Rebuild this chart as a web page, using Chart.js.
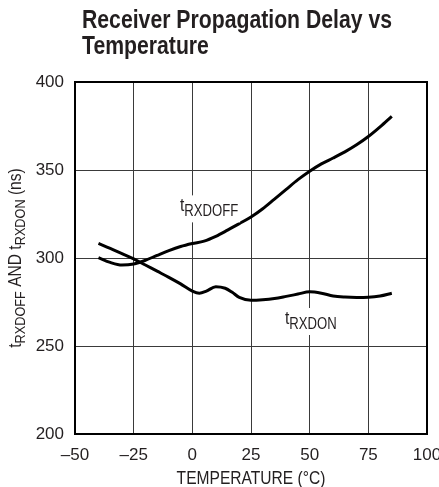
<!DOCTYPE html>
<html>
<head>
<meta charset="utf-8">
<script src="https://cdn.jsdelivr.net/npm/chart.js@4"></script>
<style>
html,body{margin:0;padding:0;background:#fff;}
#wrap{position:relative;width:439px;height:487px;}
</style>
</head>
<body>
<div id="wrap"><canvas id="c" width="439" height="487"></canvas></div>
<script>
const FONT = "'Liberation Sans', Arial, sans-serif";
const SX = 0.82; // horizontal compression to imitate a condensed face

const titleLines = ["Receiver Propagation Delay vs", "Temperature"];
const xTitle = "TEMPERATURE (°C)";
const xTicks = [-50, -25, 0, 25, 50, 75, 100];
const yTicks = [200, 250, 300, 350, 400];

const tempOff = [-40, -35, -30, -25, -20, -15, -10, -5, 0, 5, 10, 15, 20, 25, 30, 35, 40, 45, 50, 55, 60, 65, 70, 75, 80, 85];
const delayOff = [300.2, 297.5, 296, 296.6, 298.7, 301.5, 304.2, 306.5, 308.2, 309.6, 312.3, 315.8, 319.5, 323.3, 328, 333.5, 339, 344.5, 349.3, 353.5, 356.8, 360.3, 364.3, 369, 374.5, 380.5];

const tempOn = [-40, -35, -30, -25, -20, -15, -10, -5, 0, 3, 6, 10, 14, 17, 20, 25, 30, 35, 40, 45, 50, 55, 60, 65, 70, 75, 80, 85];
const delayOn = [308.3, 305.5, 302.5, 299.5, 296, 292.5, 289, 285.3, 281.2, 280, 281.2, 283.7, 282.8, 280.5, 277.6, 276, 276.3, 277, 278.2, 279.5, 280.8, 280, 278.4, 277.8, 277.6, 277.7, 278.4, 280];

// label anchors (data space): [temperature, delay]
const labelOff = {main: "t", sub: "RXDOFF", at: [-5.3, 326.5]};
const labelOn = {main: "t", sub: "RXDON", at: [39.5, 262.5]};
const yTitleParts = [["t", false], ["RXDOFF", true], [" AND ", false], ["t", false], ["RXDON", true], [" (ns)", false]];

function pts(xs, ys) { return xs.map((x, i) => ({x: x, y: ys[i]})); }

function partsWidth(ctx, parts, mainSize, subSize) {
  let w = 0;
  parts.forEach(([txt, sub]) => {
    ctx.font = (sub ? subSize : mainSize) + "px " + FONT;
    w += ctx.measureText(txt).width;
  });
  return w;
}
function renderParts(ctx, parts, x, y, mainSize, subSize, subDrop) {
  let cx = x;
  parts.forEach(([txt, sub]) => {
    ctx.font = (sub ? subSize : mainSize) + "px " + FONT;
    ctx.fillText(txt, cx, sub ? y + subDrop : y);
    cx += ctx.measureText(txt).width;
  });
  return cx;
}

const textPlugin = {
  id: 'textPlugin',
  afterDraw(chart) {
    const ctx = chart.ctx;
    const xs = chart.scales.x, ys = chart.scales.y;
    const area = chart.chartArea;
    ctx.save();
    ctx.fillStyle = '#231f20';
    ctx.textBaseline = 'alphabetic';
    ctx.textAlign = 'left';

    // title (bold, condensed)
    ctx.save();
    ctx.font = "bold 25px " + FONT;
    const tw = ctx.measureText(titleLines[0]).width;
    const tsx = 310 / tw;
    ctx.translate(82, 0);
    ctx.scale(tsx, 1);
    ctx.fillText(titleLines[0], 0, 28);
    ctx.fillText(titleLines[1], 0, 54);
    ctx.restore();

    // x axis title
    ctx.save();
    ctx.font = "19px " + FONT;
    const xw = ctx.measureText(xTitle).width * SX;
    ctx.translate((area.left + area.right) / 2 - xw / 2, 484);
    ctx.scale(SX, 1);
    ctx.fillText(xTitle, 0, 0);
    ctx.restore();

    // curve labels with white background
    [labelOff, labelOn].forEach(l => {
      const px = xs.getPixelForValue(l.at[0]);
      const py = ys.getPixelForValue(l.at[1]);
      const parts = [[l.main, false], [l.sub, true]];
      const w = partsWidth(ctx, parts, 19, 16) * SX;
      ctx.fillStyle = '#fff';
      ctx.fillRect(px - 2, py - 16, w + 4, 27);
      ctx.fillStyle = '#231f20';
      ctx.save();
      ctx.translate(px, py);
      ctx.scale(SX, 1);
      renderParts(ctx, parts, 0, 0, 19, 16, 5);
      ctx.restore();
    });

    // y title rotated
    const cy = (area.top + area.bottom) / 2;
    const w = partsWidth(ctx, yTitleParts, 19, 15.5) * SX;
    ctx.save();
    ctx.translate(21, cy);
    ctx.rotate(-Math.PI / 2);
    ctx.translate(-w / 2, 0);
    ctx.scale(SX, 1);
    renderParts(ctx, yTitleParts, 0, 0, 19, 15.5, 4);
    ctx.restore();
    ctx.restore();
  }
};

new Chart(document.getElementById('c'), {
  type: 'line',
  data: {
    datasets: [
      {label: 'tRXDOFF', data: pts(tempOff, delayOff), borderColor: '#000', borderWidth: 3, pointRadius: 0, tension: 0.4, cubicInterpolationMode: 'monotone', fill: false},
      {label: 'tRXDON', data: pts(tempOn, delayOn), borderColor: '#000', borderWidth: 3, pointRadius: 0, tension: 0.4, cubicInterpolationMode: 'monotone', fill: false}
    ]
  },
  options: {
    responsive: false,
    animation: false,
    devicePixelRatio: 1,
    layout: {padding: {left: 0, right: 12, top: 82, bottom: 0}},
    plugins: {legend: {display: false}, tooltip: {enabled: false}, title: {display: false}},
    scales: {
      x: {
        type: 'linear', min: xTicks[0], max: xTicks[xTicks.length - 1],
        afterBuildTicks: s => { s.ticks = xTicks.map(v => ({value: v})); },
        afterFit: s => { s.height = 53; s.paddingLeft = 0; s.paddingRight = 0; },
        grid: {color: '#3a3a3a', lineWidth: 1, drawTicks: false},
        border: {color: '#000', width: 2},
        ticks: {padding: 11, color: '#231f20', font: {family: FONT, size: 17}, maxRotation: 0,
          callback: v => (v < 0 ? '\u2013' + Math.abs(v) : String(v))}
      },
      y: {
        type: 'linear', min: yTicks[0], max: yTicks[yTicks.length - 1],
        afterBuildTicks: s => { s.ticks = yTicks.map(v => ({value: v})); },
        afterFit: s => { s.width = 75; s.paddingTop = 0; s.paddingBottom = 0; },
        grid: {color: '#3a3a3a', lineWidth: 1, drawTicks: false},
        border: {color: '#000', width: 2},
        ticks: {padding: 11, color: '#231f20', font: {family: FONT, size: 17}}
      }
    }
  },
  plugins: [textPlugin, {
    id: 'frame',
    afterDatasetsDraw(chart) {
      const a = chart.chartArea, ctx = chart.ctx;
      ctx.save();
      ctx.strokeStyle = '#000';
      ctx.lineWidth = 2;
      ctx.strokeRect(a.left, a.top, a.right - a.left, a.bottom - a.top);
      ctx.restore();
    }
  }]
});
</script>
</body>
</html>
